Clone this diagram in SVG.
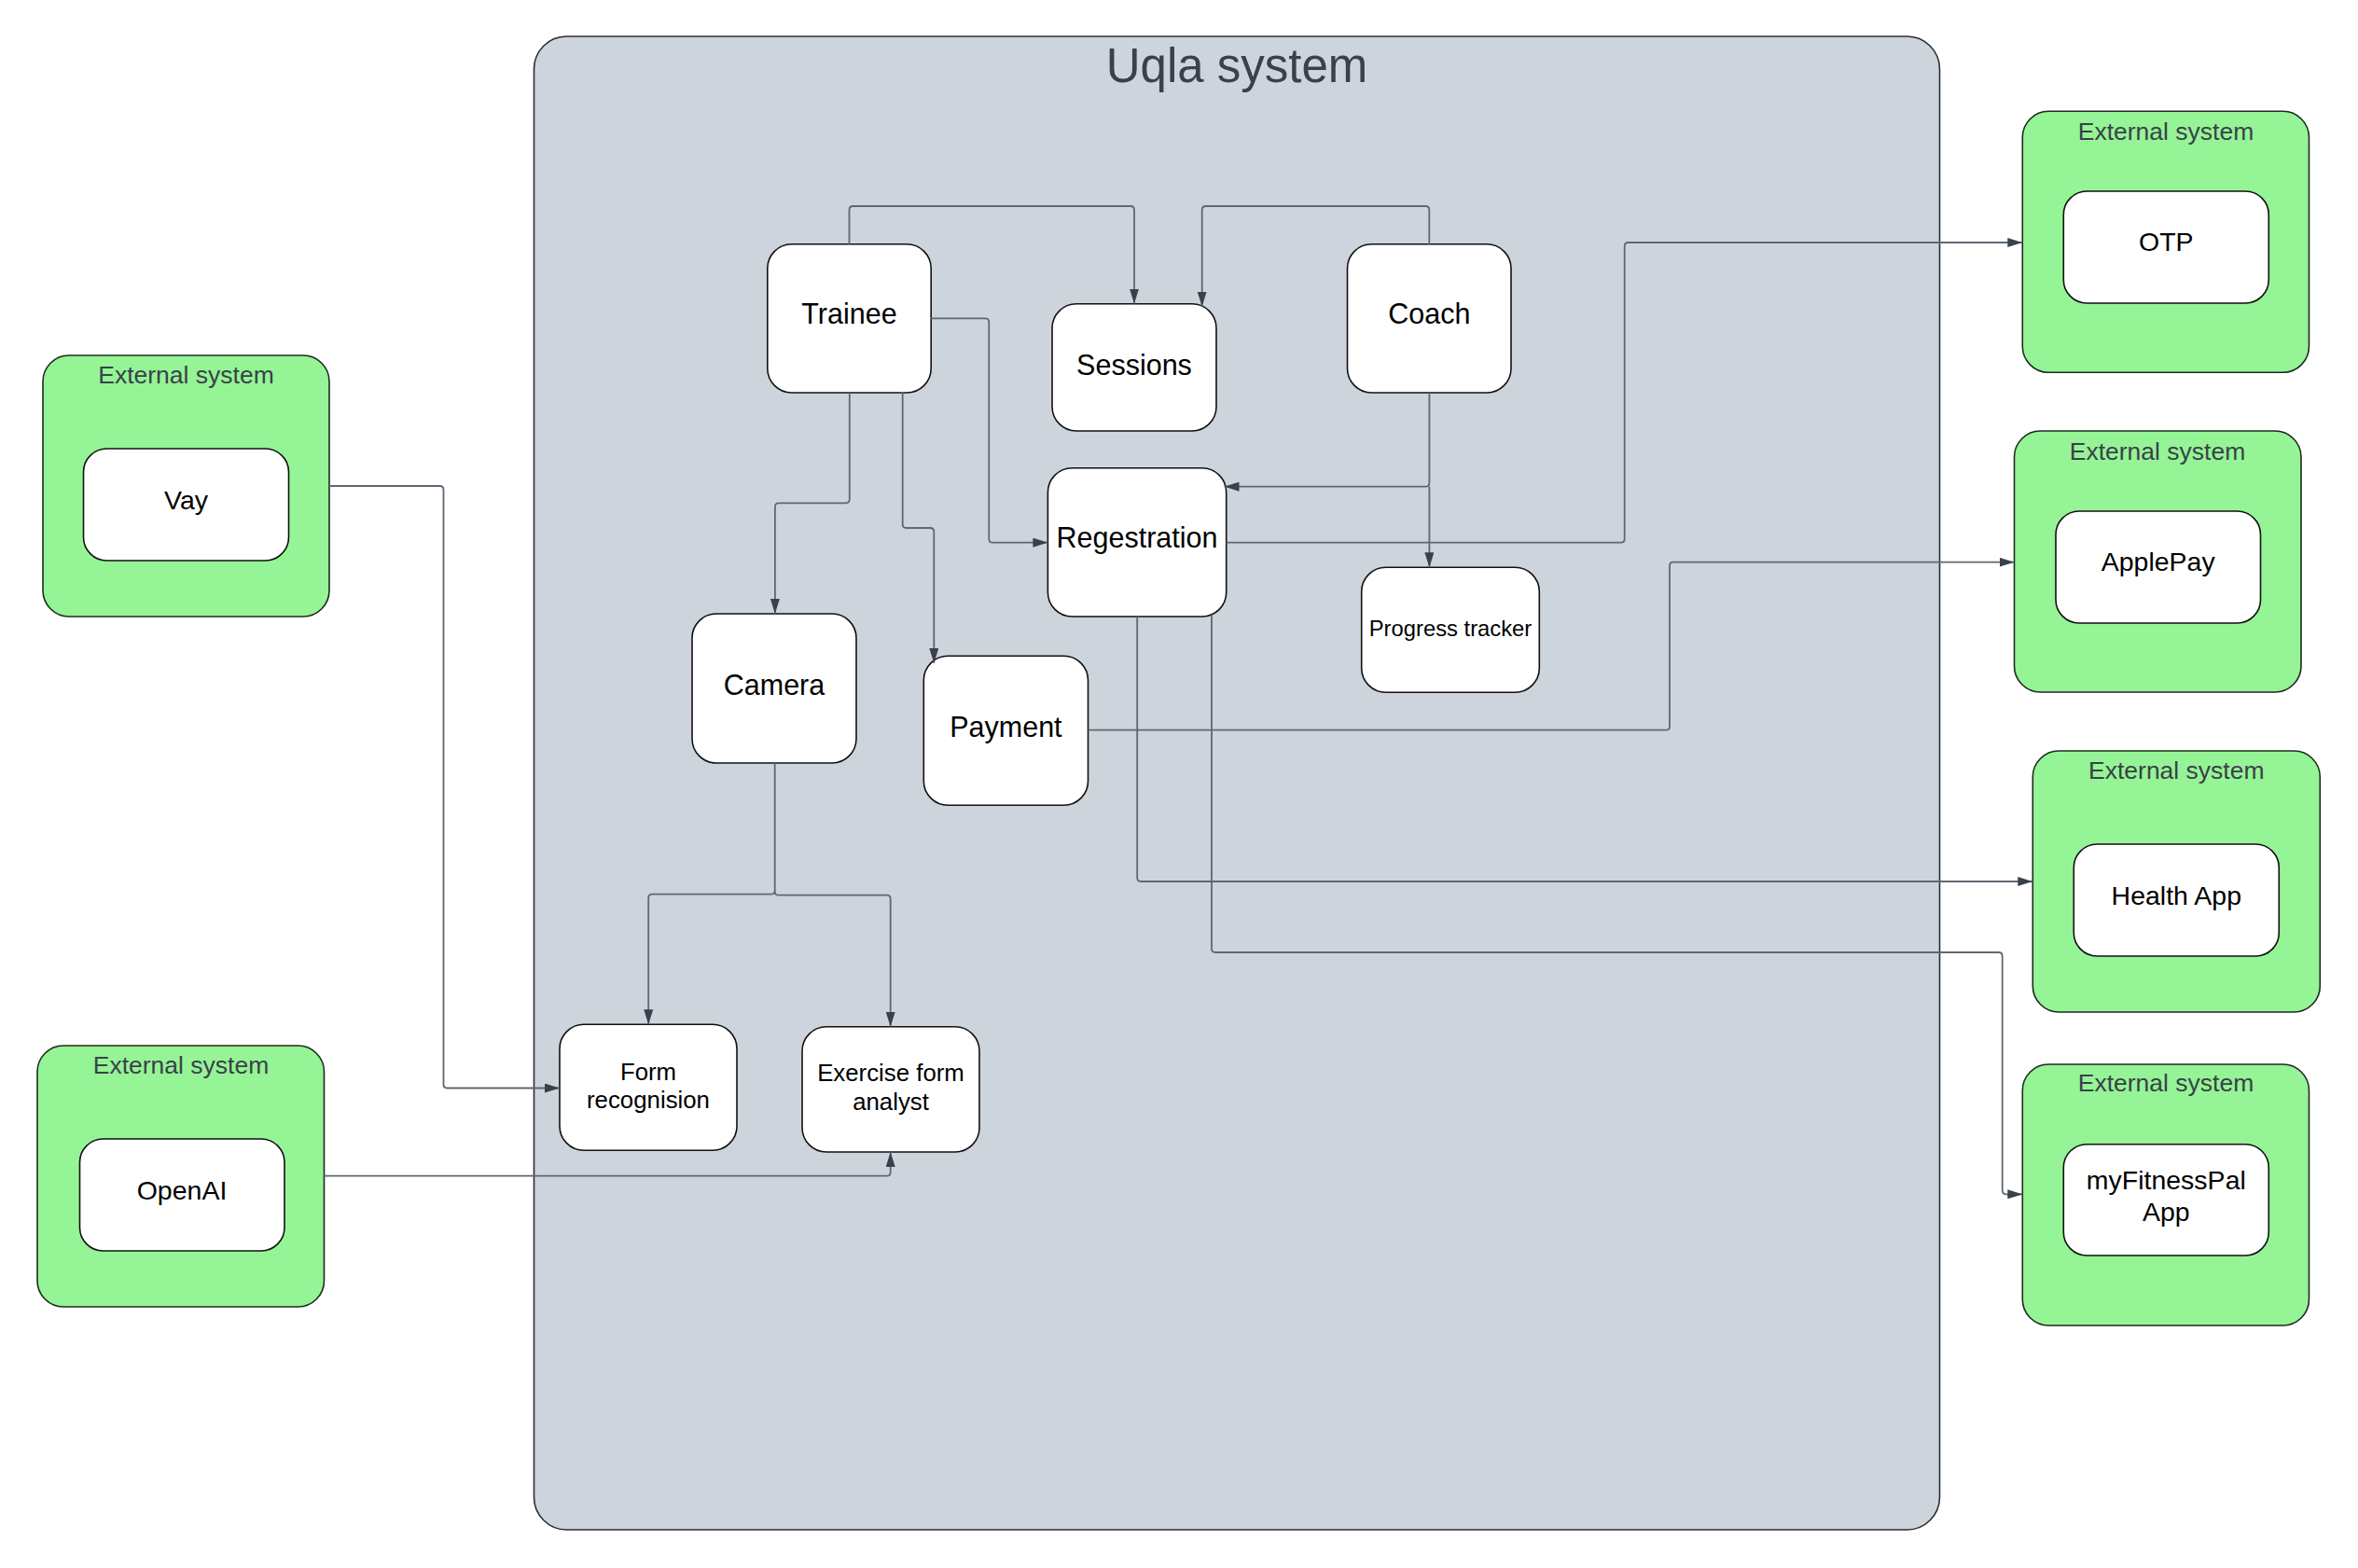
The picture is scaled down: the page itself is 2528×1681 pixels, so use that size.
<svg xmlns="http://www.w3.org/2000/svg" width="2528" height="1681" viewBox="0 0 2528 1681">
<defs>
<style>
.bg{fill:#ffffff}
.container{fill:#ced4dc;stroke:#2a2f35;stroke-width:1.6}
.ext{fill:#95f495;stroke:#1f2a1f;stroke-width:1.6}
.node{fill:#ffffff;stroke:#111111;stroke-width:1.6}
.title{font-family:"Liberation Sans",Arial,sans-serif;font-size:51px;fill:#3a414a;text-anchor:middle}
.extlabel{font-family:"Liberation Sans",Arial,sans-serif;font-size:26.5px;fill:#3a414a;text-anchor:middle}
.t30{font-family:"Liberation Sans",Arial,sans-serif;font-size:30.5px;fill:#000000;text-anchor:middle}
.t28{font-family:"Liberation Sans",Arial,sans-serif;font-size:28.5px;fill:#000000;text-anchor:middle}
.t26{font-family:"Liberation Sans",Arial,sans-serif;font-size:25.8px;fill:#000000;text-anchor:middle}
.t24{font-family:"Liberation Sans",Arial,sans-serif;font-size:23.8px;fill:#000000;text-anchor:middle}
.conn{fill:none;stroke:#5f6772;stroke-width:1.8;marker-end:url(#arrow)}
.plain{fill:none;stroke:#5f6772;stroke-width:1.8}
</style>
<marker id="arrow" viewBox="0 0 16 10" refX="16" refY="5" markerWidth="16" markerHeight="10" markerUnits="userSpaceOnUse" orient="auto">
<path d="M0,0 L16,5 L0,10 z" fill="#3a414a"/>
</marker>
</defs>
<rect class="bg" x="0" y="0" width="2528" height="1681"/>

<g id="uqla-system">
<rect class="container" x="572.5" y="39" width="1507" height="1601" rx="35" ry="35"/>
<text class="title" x="1326" y="88">Uqla system</text>
</g>

<g id="ext-vay">
<rect class="ext" x="46" y="381" width="307" height="280" rx="28" ry="28"/>
<text class="extlabel" x="199.5" y="411">External system</text>
<rect class="node" x="89.5" y="481" width="220" height="120" rx="25" ry="25"/>
<text class="t28" x="199.5" y="546">Vay</text>
</g>

<g id="ext-openai">
<rect class="ext" x="40" y="1121" width="307.5" height="280" rx="28" ry="28"/>
<text class="extlabel" x="194" y="1151">External system</text>
<rect class="node" x="85.5" y="1221" width="219.5" height="120" rx="25" ry="25"/>
<text class="t28" x="195" y="1286">OpenAI</text>
</g>

<g id="ext-otp">
<rect class="ext" x="2168.3" y="119.3" width="307.2" height="280" rx="28" ry="28"/>
<text class="extlabel" x="2322" y="150">External system</text>
<rect class="node" x="2212.3" y="205" width="220" height="120" rx="25" ry="25"/>
<text class="t28" x="2322.3" y="269">OTP</text>
</g>

<g id="ext-applepay">
<rect class="ext" x="2159.5" y="462" width="307.5" height="280" rx="28" ry="28"/>
<text class="extlabel" x="2313" y="492.5">External system</text>
<rect class="node" x="2204" y="548" width="219.5" height="120" rx="25" ry="25"/>
<text class="t28" x="2313.7" y="612">ApplePay</text>
</g>

<g id="ext-health">
<rect class="ext" x="2179.3" y="805" width="308" height="280" rx="28" ry="28"/>
<text class="extlabel" x="2333.3" y="835">External system</text>
<rect class="node" x="2223.3" y="905" width="220" height="120" rx="25" ry="25"/>
<text class="t28" x="2333.3" y="970">Health App</text>
</g>

<g id="ext-myfitnesspal">
<rect class="ext" x="2168.3" y="1141" width="307.2" height="280" rx="28" ry="28"/>
<text class="extlabel" x="2322" y="1170">External system</text>
<rect class="node" x="2212.3" y="1226.7" width="220" height="119.3" rx="25" ry="25"/>
<text class="t28" x="2322.3" y="1275">myFitnessPal</text>
<text class="t28" x="2322.3" y="1309.3">App</text>
</g>

<g id="trainee">
<rect class="node" x="822.8" y="261.7" width="175.4" height="159.3" rx="26" ry="26"/>
<text class="t30" x="910.5" y="347">Trainee</text>
</g>

<g id="sessions">
<rect class="node" x="1128" y="325.8" width="176" height="136.2" rx="26" ry="26"/>
<text class="t30" x="1216" y="401.7">Sessions</text>
</g>

<g id="coach">
<rect class="node" x="1444.5" y="261.7" width="175.5" height="159.3" rx="26" ry="26"/>
<text class="t30" x="1532.3" y="347">Coach</text>
</g>

<g id="regestration">
<rect class="node" x="1123.4" y="501.7" width="191.3" height="159.3" rx="26" ry="26"/>
<text class="t30" x="1219" y="586.7">Regestration</text>
</g>

<g id="progress-tracker">
<rect class="node" x="1459.7" y="608.3" width="190.6" height="134" rx="26" ry="26"/>
<text class="t24" x="1555" y="681.7">Progress tracker</text>
</g>

<g id="camera">
<rect class="node" x="742" y="658" width="176" height="160" rx="26" ry="26"/>
<text class="t30" x="830" y="744.5">Camera</text>
</g>

<g id="payment">
<rect class="node" x="990.3" y="703.3" width="176.2" height="160" rx="26" ry="26"/>
<text class="t30" x="1078.4" y="789.5">Payment</text>
</g>

<g id="form-recognision">
<rect class="node" x="600" y="1098.3" width="190" height="135" rx="26" ry="26"/>
<text class="t26" x="695" y="1157.7">Form</text>
<text class="t26" x="695" y="1188.3">recognision</text>
</g>

<g id="exercise-form-analyst">
<rect class="node" x="860" y="1100.7" width="190" height="134.3" rx="26" ry="26"/>
<text class="t26" x="955" y="1159.3">Exercise form</text>
<text class="t26" x="955" y="1190">analyst</text>
</g>

<g id="connectors">
<path class="conn" d="M910.5 261.7 V225 Q910.5 221 914.5 221 H1212 Q1216 221 1216 225 V325.5"/>
<path class="conn" d="M1532.3 261.7 V225 Q1532.3 221 1528.3 221 H1292.7 Q1288.7 221 1288.7 225 V328.5"/>
<path class="conn" d="M998.2 341.3 H1056.3 Q1060.3 341.3 1060.3 345.3 V577.7 Q1060.3 581.7 1064.3 581.7 H1123.4"/>
<path class="conn" d="M910.8 421 V535.3 Q910.8 539.3 906.8 539.3 H834.9 Q830.9 539.3 830.9 543.3 V658"/>
<path class="conn" d="M967.7 420 V562 Q967.7 566 971.7 566 H997.3 Q1001.3 566 1001.3 570 V711"/>
<path class="conn" d="M1532.4 421 V517.7 Q1532.4 521.7 1528.4 521.7 H1312.5"/>
<path class="conn" d="M1532.4 521.7 V608.3"/>
<path class="conn" d="M1314.7 581.7 H1737.7 Q1741.7 581.7 1741.7 577.7 V264 Q1741.7 260 1745.7 260 H2168.3"/>
<path class="conn" d="M1166.5 782.7 H1786 Q1790 782.7 1790 778.7 V606.7 Q1790 602.7 1794 602.7 H2159.5"/>
<path class="conn" d="M1219.2 661 V941 Q1219.2 945 1223.2 945 H2179.3"/>
<path class="conn" d="M1299 659.3 V1017 Q1299 1021 1303 1021 H2142.7 Q2146.7 1021 2146.7 1025 V1276.3 Q2146.7 1280.3 2150.7 1280.3 H2168.3"/>
<path class="conn" d="M353 521 H471.5 Q475.5 521 475.5 525 V1162.5 Q475.5 1166.5 479.5 1166.5 H600"/>
<path class="conn" d="M830.7 818 V954.7 Q830.7 958.7 826.7 958.7 H699.2 Q695.2 958.7 695.2 962.7 V1098.3"/>
<path class="conn" d="M830.7 955.7 Q830.7 959.7 834.7 959.7 H950.7 Q954.7 959.7 954.7 963.7 V1100.7"/>
<path class="conn" d="M347.5 1260.7 H950.7 Q954.7 1260.7 954.7 1256.7 V1235"/>
</g>
</svg>
